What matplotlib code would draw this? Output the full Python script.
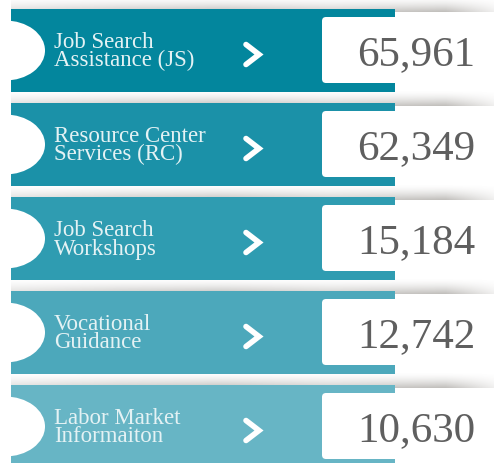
import numpy as np
import matplotlib
matplotlib.use('Agg')
import matplotlib.pyplot as plt
from matplotlib.patches import Rectangle, Ellipse, FancyBboxPatch

# data
labels = ['Job Search\nAssistance (JS)', 'Resource Center\nServices (RC)',
          'Job Search\nWorkshops', 'Vocational\nGuidance', 'Labor Market\nInformaiton']
values = [65961, 62349, 15184, 12742, 10630]
band_colors = ['#03869d', '#1b91a8', '#2f9cb1', '#4ca8bb', '#67b5c5']

W, H = 494, 463
fig = plt.figure(figsize=(W / 100, H / 100), dpi=100)
ax = fig.add_axes([0, 0, 1, 1])
ax.set_xlim(0, W)
ax.set_ylim(H, 0)
ax.axis('off')

serif = 'Liberation Serif'
x0, x1 = 11, 395      # band span
pitch, bh = 94, 83    # band spacing / height
first_top = 9

# horizontal profile of the gray shadow
xs = np.linspace(x0, W, 300)
prof = np.interp(xs, [11, 120, 220, 330, 400, 445, 494], [0.55, 0.85, 1.0, 0.75, 0.9, 1.0, 0.25])
ramp = np.linspace(0, 1, 40) ** 1.6

for i, (lab, val, col) in enumerate(zip(labels, values, band_colors)):
    top = first_top + i * pitch
    cy = top + bh / 2

    # shadow above band
    alpha = 0.45 * ramp[:, None] * prof[None, :]
    img = np.zeros((len(ramp), len(xs), 4))
    img[..., 0] = 0.45
    img[..., 1] = 0.43
    img[..., 2] = 0.40
    img[..., 3] = alpha
    ax.imshow(img, extent=(x0, W, top + 3, top - 13), aspect='auto', zorder=1,
              interpolation='bilinear')

    ax.add_patch(Rectangle((x0, top), x1 - x0, bh, facecolor=col, edgecolor='none', zorder=2))
    ax.add_patch(Ellipse((5, cy), 80, 60, facecolor='white', edgecolor='none', zorder=3))

    # white value box
    ax.add_patch(FancyBboxPatch((322, top + 8), 200, 66,
                                boxstyle='round,pad=0,rounding_size=4',
                                facecolor='white', edgecolor='none', zorder=3))

    l1, l2 = lab.split('\n')
    ax.text(54, cy - 3, l1, family=serif, fontsize=16.5, color='#e4f2f4',
            va='baseline', ha='left', zorder=4)
    ax.text(54, cy + 16, l2, family=serif, fontsize=16.5, color='#e4f2f4',
            va='baseline', ha='left', zorder=4)

    # chevron
    ax.plot([246, 259, 246], [cy - 6, cy + 4, cy + 14], color='white', lw=4,
            solid_capstyle='round', solid_joinstyle='miter', zorder=4)

    ax.text(357, cy + 15, f'{val:,}', family=serif, fontsize=31, color='#5f5f5f',
            va='baseline', ha='left', zorder=4)

fig.savefig('out.png', dpi=100)
